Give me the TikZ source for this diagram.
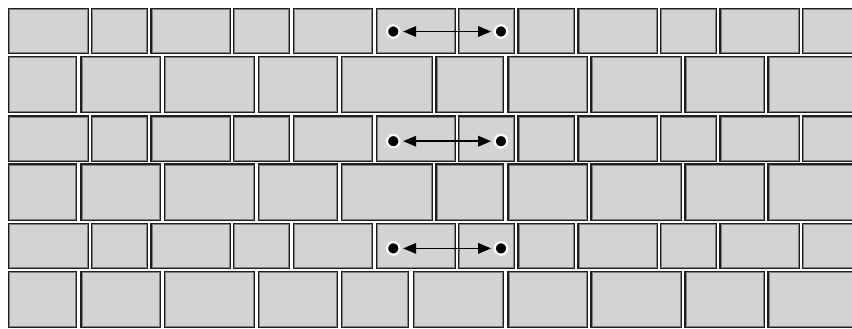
\documentclass[tikz,border=0pt]{standalone}
\usetikzlibrary{arrows.meta}
\definecolor{brickfill}{HTML}{D1D3D4}
\definecolor{brickedge}{HTML}{231F20}
\definecolor{brickinner}{HTML}{808080}
\newcommand\mybrick[4]{%
  \fill[brickfill] (#1,#3) rectangle (#2,#4);
  \draw[brickedge,line width=1.2] ({#1+0.6},{#3+0.6}) rectangle ({#2-0.6},{#4-0.6});
  \draw[brickinner,line width=0.7] ({#1+1.55},{#3+1.55}) rectangle ({#2-1.55},{#4-1.55});
}
\tikzset{
  dotnode/.style={circle,fill=black,draw=white,line width=2.2,inner sep=0pt,minimum size=12.5},
  dblarrow/.style={{Triangle[length=13,width=10.5]}-{Triangle[length=13,width=10.5]},line width=1.6,
    shorten >=2.5,shorten <=2.5,draw=black}
}
\begin{document}
\begin{tikzpicture}[x=1pt,y=-1pt]
\useasboundingbox (0,0) rectangle (852,329);
\fill[white] (0,0) rectangle (852,329);
\begin{scope}
\clip (0,0) rectangle (852,329);
% odd rows (A pattern)
\foreach \ya/\yb in {8/54, 115.3/161.5, 222.8/268.8}{
  \foreach \xa/\xb in {8/88.7, 90.7/148.3, 150.3/230.7, 233/290.3, 292.7/372.7, 375.7/455.7,
                       457.7/515, 517.3/575.3, 577.3/657.7, 660/717, 719.3/799.7, 802/882}{
    \mybrick{\xa}{\xb}{\ya}{\yb}
  }
}
% even rows 2 and 4 (B pattern)
\foreach \ya/\yb in {56/113.3, 163.3/220.8}{
  \foreach \xa/\xb in {8/77.3, 80.3/160.7, 163.7/255.3, 258/337.7, 341/432.7, 435.3/504.3,
                       507.3/587.7, 590.3/682, 684.3/764.7, 767.3/880}{
    \mybrick{\xa}{\xb}{\ya}{\yb}
  }
}
% bottom row
\foreach \xa/\xb in {8/77.3, 80.3/160.7, 163.7/255.3, 258/337.7, 341/409.3, 413/504.3,
                     507.3/587.7, 590.3/682, 684.3/764.7, 767.3/880}{
  \mybrick{\xa}{\xb}{270.8}{328.3}
}
\end{scope}
% dots and arrows
\node[dotnode] (l1) at (393.3,31.5) {};
\node[dotnode] (r1) at (501,31.5) {};
\node[dotnode] (l2) at (393.3,141.2) {};
\node[dotnode] (r2) at (501,141.2) {};
\node[dotnode] (l3) at (393.3,248.4) {};
\node[dotnode] (r3) at (501,248.4) {};
\draw[dblarrow] (l1) -- (r1);
\draw[dblarrow] (l2) -- (r2);
\draw[dblarrow] (l3) -- (r3);
\end{tikzpicture}
\end{document}
